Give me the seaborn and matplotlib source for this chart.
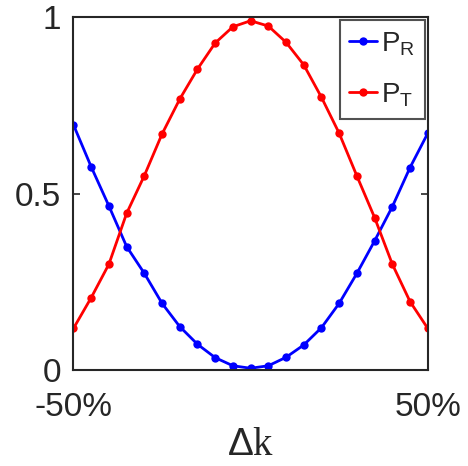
import numpy as np
import pandas as pd
import matplotlib
matplotlib.use("Agg")
import matplotlib.pyplot as plt
import seaborn as sns

# detuning in percent
dk = [-50, -45, -40, -35, -30, -25, -20, -15, -10, -5, 0,
      5, 10, 15, 20, 25, 30, 35, 40, 45, 50]

# reflected / transmitted probability
p_r = [0.695, 0.576, 0.465, 0.350, 0.274, 0.189, 0.123, 0.073, 0.035, 0.012, 0.005,
       0.012, 0.036, 0.071, 0.120, 0.189, 0.274, 0.366, 0.463, 0.574, 0.671]
p_t = [0.118, 0.205, 0.300, 0.444, 0.551, 0.669, 0.768, 0.853, 0.927, 0.973, 0.990,
       0.975, 0.929, 0.865, 0.773, 0.671, 0.550, 0.432, 0.300, 0.194, 0.118]

labels = [r'P$_\mathregular{R}$', r'P$_\mathregular{T}$']
colors = ['#0000ff', '#ff0000']

df = pd.concat([
    pd.DataFrame({'dk': dk, 'P': p_r, 'series': labels[0]}),
    pd.DataFrame({'dk': dk, 'P': p_t, 'series': labels[1]}),
])

sns.set_style('ticks')
plt.rcParams['font.family'] = ['Liberation Sans', 'DejaVu Sans']
plt.rcParams['mathtext.fontset'] = 'custom'
plt.rcParams['mathtext.rm'] = 'Liberation Sans'

fig = plt.figure(figsize=(4.68, 4.66), dpi=100)
ax = fig.add_axes([0.157, 0.206, 0.757, 0.757])

sns.lineplot(data=df, x='dk', y='P', hue='series', palette=colors,
             marker='o', markersize=6, markeredgewidth=0, linewidth=2,
             ax=ax)

ax.set_xlim(-50, 50)
ax.set_ylim(0, 1)
ax.set_xticks([-50, 50])
ax.set_xticklabels(['-50%', '50%'])
ax.set_yticks([0, 0.5, 1])
ax.set_yticklabels(['0', '0.5', '1'])
ax.tick_params(direction='in', length=5, width=1.2, labelsize=24,
               colors='#262626', right=True, top=True)
ax.tick_params(axis='x', pad=16)
ax.tick_params(axis='y', pad=9)
for s in ax.spines.values():
    s.set_visible(True)
    s.set_linewidth(1.5)
    s.set_color('#262626')

ax.set_xlabel(r'$\Delta$k', family='Liberation Serif', fontsize=28,
              color='#262626', labelpad=3)
ax.set_ylabel('')

leg = ax.legend(loc='upper right', fontsize=20, frameon=True, fancybox=False,
                borderaxespad=0.1, handlelength=1.0, handletextpad=0.15,
                borderpad=0.35, labelspacing=0.85)
leg.get_frame().set_edgecolor('#262626')
leg.get_frame().set_linewidth(1.5)

fig.savefig('out.png', dpi=100)
